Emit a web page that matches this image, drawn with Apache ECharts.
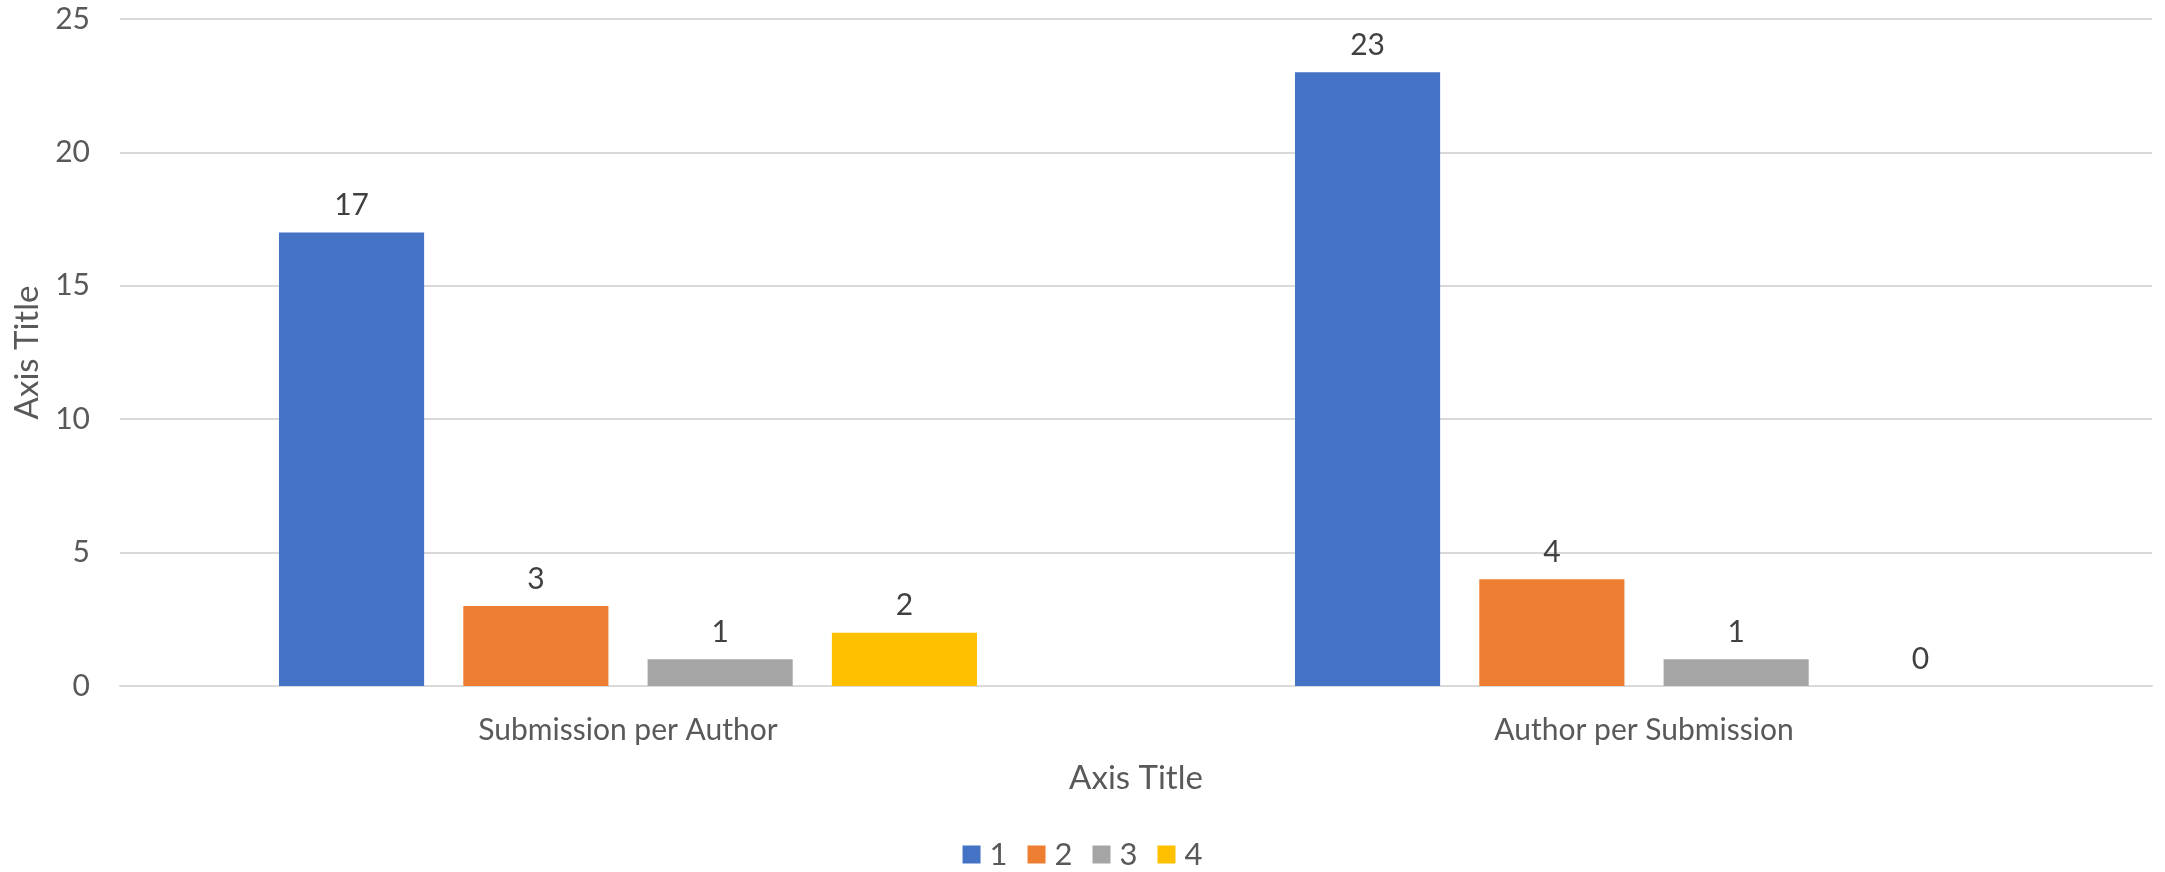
<!DOCTYPE html>
<html>
<head>
<meta charset="utf-8">
<script src="https://cdn.jsdelivr.net/npm/echarts@6/dist/echarts.min.js"></script>
<style>
html,body{margin:0;padding:0;background:#fff;}
#chart{width:2165px;height:872px;}
</style>
</head>
<body>
<div id="chart"></div>
<script>
const categories = ['Submission per Author', 'Author per Submission'];
const seriesNames = ['1', '2', '3', '4'];
const series1 = [17, 23];
const series2 = [3, 4];
const series3 = [1, 1];
const series4 = [2, 0];
const yTicks = [0, 5, 10, 15, 20, 25];

const colors = ['#4472C4', '#ED7D31', '#A5A5A5', '#FFC000'];
const FONT = 'Lato, "Liberation Sans", sans-serif';
const values = [series1, series2, series3, series4];

const chart = echarts.init(document.getElementById('chart'), null, {renderer: 'canvas'});
chart.setOption({
  animation: false,
  backgroundColor: '#ffffff',
  color: colors,
  textStyle: {fontFamily: FONT},
  grid: {left: 120, right: 13, top: 19, bottom: 186},
  legend: {
    top: 834,
    left: 'center',
    itemWidth: 18,
    itemHeight: 18,
    itemGap: 20,
    icon: 'rect',
    data: seriesNames,
    textStyle: {fontSize: 31, color: '#595959', fontFamily: FONT, padding: [0, 0, 0, 4]}
  },
  xAxis: {
    type: 'category',
    data: categories,
    axisLine: {show: true, lineStyle: {color: '#D9D9D9', width: 2}},
    axisTick: {show: false},
    axisLabel: {fontSize: 30, color: '#595959', margin: 29, fontFamily: FONT},
    name: 'Axis Title',
    nameLocation: 'middle',
    nameGap: 76,
    nameTextStyle: {fontSize: 33, color: '#595959', fontFamily: FONT}
  },
  yAxis: {
    type: 'value',
    min: yTicks[0],
    max: yTicks[yTicks.length - 1],
    interval: 5,
    axisLine: {show: false},
    axisTick: {show: false},
    splitLine: {lineStyle: {color: '#D9D9D9', width: 2}},
    axisLabel: {fontSize: 30, color: '#595959', margin: 30, fontFamily: FONT},
    name: 'Axis Title',
    nameLocation: 'middle',
    nameGap: 72,
    nameRotate: 90,
    nameTextStyle: {fontSize: 33, color: '#595959', fontFamily: FONT}
  },
  series: seriesNames.map((n, i) => ({
    name: n,
    type: 'bar',
    data: values[i],
    barGap: '27%',
    barCategoryGap: '31.3%',
    label: {
      show: true,
      position: 'top',
      distance: 12,
      fontSize: 30,
      color: '#404040',
      fontFamily: FONT
    }
  }))
});
</script>
</body>
</html>
